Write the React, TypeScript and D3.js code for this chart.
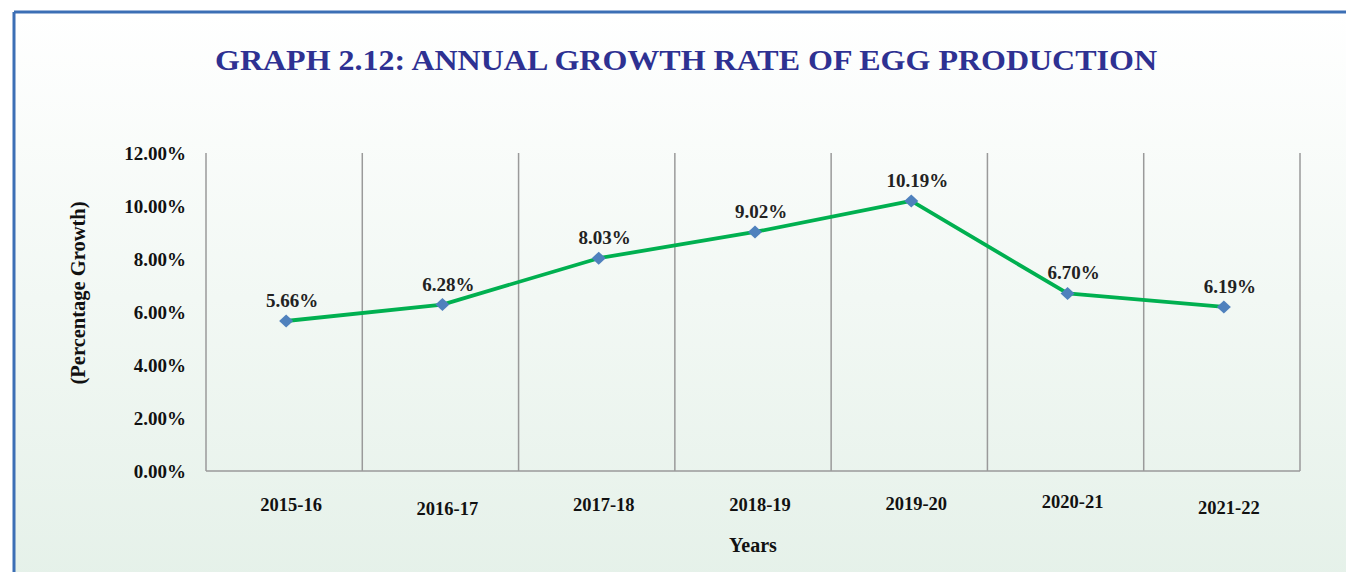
import React from "react";
import * as d3 from "d3";

const categories = ["2015-16", "2016-17", "2017-18", "2018-19", "2019-20", "2020-21", "2021-22"];
const growth = [5.66, 6.28, 8.03, 9.02, 10.19, 6.7, 6.19];
const yTicks = [0, 2, 4, 6, 8, 10, 12];
const labelDy = [0, 4, 0, 0, -1, -3, 3];

const W = 1346;
const H = 572;
const M = { left: 206, right: 1300, top: 153, bottom: 471 };

export default function App() {
  const x = d3.scaleBand<string>().domain(categories).range([M.left, M.right]).padding(0);
  const y = d3.scaleLinear().domain([0, 12]).range([M.bottom, M.top]);
  const cx = (c: string) => (x(c) as number) + x.bandwidth() / 2 + 2;
  const line = d3
    .line<number>()
    .x((_, i) => cx(categories[i]))
    .y((d) => y(d));
  const font = "'Liberation Serif', 'DejaVu Serif', serif";
  const boundaries = [...categories.map((c) => x(c) as number), M.right];

  return (
    <svg width={W} height={H} style={{ position: "absolute", left: 0, top: 0 }}>
      <defs>
        <linearGradient id="bg" x1="0" y1="0" x2="0" y2="1">
          <stop offset="0%" stopColor="#ffffff" />
          <stop offset="100%" stopColor="#e5f1e9" />
        </linearGradient>
      </defs>
      <rect x={0} y={0} width={W} height={H} fill="#ffffff" />
      <rect x={14} y={12} width={W} height={H} fill="url(#bg)" />
      <line x1={14} y1={12} x2={W} y2={12} stroke="#3c6fb5" strokeWidth={3} />
      <line x1={14} y1={12} x2={14} y2={H} stroke="#3c6fb5" strokeWidth={3} />

      <text
        x={686}
        y={70}
        textAnchor="middle"
        fontFamily={font}
        fontWeight="bold"
        fontSize={29}
        fill="#2e3192"
        textLength={942}
        lengthAdjust="spacingAndGlyphs"
      >
        GRAPH 2.12: ANNUAL GROWTH RATE OF EGG PRODUCTION
      </text>

      {boundaries.map((bx, i) => (
        <line key={i} x1={bx} x2={bx} y1={M.top} y2={M.bottom} stroke="#9a9a9a" strokeWidth={1.5} />
      ))}
      <line x1={M.left} x2={M.right} y1={M.bottom} y2={M.bottom} stroke="#9a9a9a" strokeWidth={1.5} />

      {yTicks.map((t) => (
        <text
          key={t}
          x={186}
          y={y(t) + 6.5}
          textAnchor="end"
          fontFamily={font}
          fontWeight="bold"
          fontSize={19}
          fill="#111"
        >
          {t.toFixed(2)}%
        </text>
      ))}

      {categories.map((c, i) => (
        <text
          key={c}
          x={cx(c) + 5}
          y={511 + labelDy[i]}
          textAnchor="middle"
          fontFamily={font}
          fontWeight="bold"
          fontSize={18.5}
          fill="#111"
        >
          {c}
        </text>
      ))}

      <text
        transform={`translate(85,293) rotate(-90)`}
        textAnchor="middle"
        fontFamily={font}
        fontWeight="bold"
        fontSize={20.5}
        fill="#111"
      >
        (Percentage Growth)
      </text>
      <text x={753} y={552} textAnchor="middle" fontFamily={font} fontWeight="bold" fontSize={20} fill="#111">
        Years
      </text>

      <path d={line(growth) || ""} fill="none" stroke="#00b050" strokeWidth={3.8} strokeLinejoin="round" />
      {growth.map((v, i) => {
        const px = cx(categories[i]);
        const py = y(v);
        return (
          <g key={i}>
            <path d={`M${px - 7},${py} L${px},${py - 6.5} L${px + 7},${py} L${px},${py + 6.5} Z`} fill="#4f81bd" />
            <text
              x={px + 6}
              y={py - 14}
              textAnchor="middle"
              fontFamily={font}
              fontWeight="bold"
              fontSize={19}
              fill="#222"
            >
              {v.toFixed(2)}%
            </text>
          </g>
        );
      })}
    </svg>
  );
}
